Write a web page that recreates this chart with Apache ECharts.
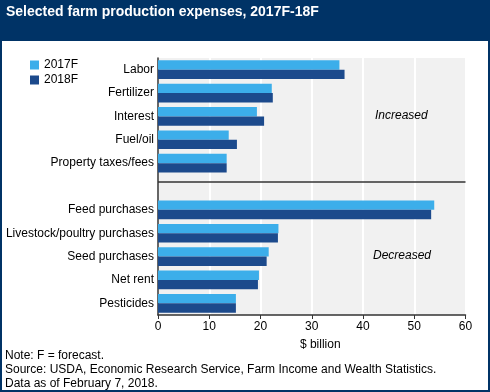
<!DOCTYPE html>
<html><head><meta charset="utf-8">
<script src="https://cdn.jsdelivr.net/npm/echarts@6/dist/echarts.min.js"></script>
<style>html,body{margin:0;padding:0;background:#fff}#c{width:490px;height:392px}</style>
</head><body><div id="c"></div>
<script>
var increasedCats = ['Labor','Fertilizer','Interest','Fuel/oil','Property taxes/fees'];
var decreasedCats = ['Feed purchases','Livestock/poultry purchases','Seed purchases','Net rent','Pesticides'];
var inc2017 = [35.4, 22.2, 19.3, 13.8, 13.4];
var inc2018 = [36.4, 22.4, 20.7, 15.4, 13.4];
var dec2017 = [53.9, 23.5, 21.6, 19.7, 15.2];
var dec2018 = [53.3, 23.4, 21.2, 19.5, 15.2];
var xTicks = [0, 10, 20, 30, 40, 50, 60];
var gapCat = ' ';

var categories = increasedCats.concat([gapCat], decreasedCats);
var s2017 = inc2017.concat([null], dec2017);
var s2018 = inc2018.concat([null], dec2018);

var FONT = '"Liberation Sans", Arial, sans-serif';
var chart = echarts.init(document.getElementById('c'), null, {renderer: 'canvas'});
chart.setOption({
  animation: false,
  backgroundColor: '#ffffff',
  textStyle: {fontFamily: FONT},
  title: {
    text: 'Selected farm production expenses, 2017F-18F',
    left: 6, top: 5, padding: 0,
    textStyle: {color: '#ffffff', fontSize: 14, fontWeight: 'bold', fontFamily: FONT}
  },
  graphic: [
    {type: 'rect', z: -10, shape: {x: 0, y: 0, width: 490, height: 41}, style: {fill: '#003366'}},
    {type: 'rect', z: -10, shape: {x: 1, y: 1, width: 488, height: 390}, style: {fill: null, stroke: '#003366', lineWidth: 2}},
    {type: 'text', z: 100, left: 375, top: 110, style: {text: 'Increased', fill: '#000', font: 'italic 12px "Liberation Sans", Arial, sans-serif'}},
    {type: 'text', z: 100, left: 373, top: 250, style: {text: 'Decreased', fill: '#000', font: 'italic 12px "Liberation Sans", Arial, sans-serif'}},
    {type: 'text', z: 100, left: 5, top: 349, style: {text: 'Note: F = forecast.\nSource: USDA, Economic Research Service, Farm Income and Wealth Statistics.\nData as of February 7, 2018.', lineHeight: 14, fill: '#000', font: '12px "Liberation Sans", Arial, sans-serif'}}
  ],
  legend: {
    orient: 'vertical', left: 30, top: 59, padding: 0,
    itemWidth: 9, itemHeight: 9, itemGap: 3,
    icon: 'rect',
    textStyle: {fontSize: 12, color: '#000', fontFamily: FONT},
    data: ['2017F', '2018F']
  },
  grid: {
    left: 158, right: 24.5, top: 58, bottom: 77,
    show: true, backgroundColor: '#f1f1f1', borderWidth: 0
  },
  xAxis: {
    type: 'value', min: xTicks[0], max: xTicks[xTicks.length - 1], interval: 10,
    axisLine: {show: true, lineStyle: {color: '#333', width: 1.5}},
    axisTick: {show: true, length: 4, lineStyle: {color: '#333'}},
    axisLabel: {color: '#000', fontSize: 12, margin: 6, fontFamily: FONT},
    splitLine: {show: true, lineStyle: {color: '#ffffff', width: 2}},
    name: '$ billion', nameLocation: 'middle', nameGap: 24,
    nameTextStyle: {color: '#000', fontSize: 12, fontFamily: FONT, padding: [0, 0, 0, 17]}
  },
  yAxis: {
    type: 'category', inverse: true, data: categories,
    axisLine: {show: true, lineStyle: {color: '#333', width: 1.5}},
    axisTick: {show: false},
    axisLabel: {color: '#000', fontSize: 12, margin: 4, fontFamily: FONT},
    splitLine: {show: false}
  },
  series: [
    {
      name: '2017F', type: 'bar', data: s2017, barGap: '0%', barCategoryGap: '20%',
      itemStyle: {color: '#3caeea'},
      markLine: {
        silent: true, symbol: 'none', label: {show: false},
        lineStyle: {color: '#333', type: 'solid', width: 1.5},
        data: [{yAxis: gapCat}]
      }
    },
    {
      name: '2018F', type: 'bar', data: s2018, barGap: '0%', barCategoryGap: '20%',
      itemStyle: {color: '#1c4a8c'}
    }
  ]
});
</script></body></html>
